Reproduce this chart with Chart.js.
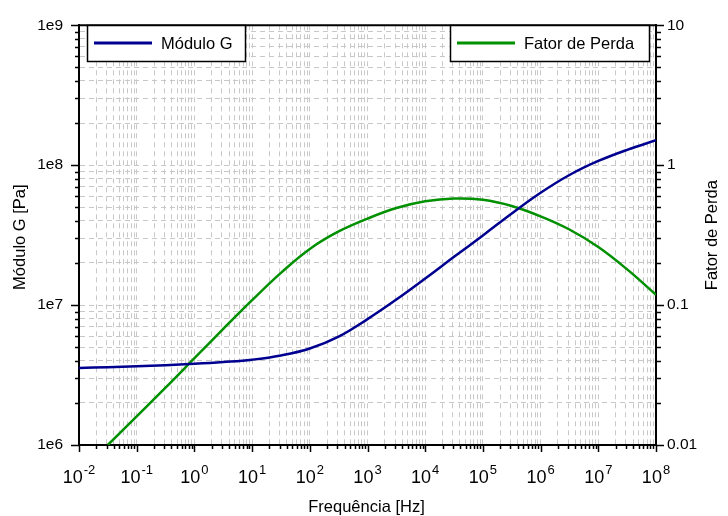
<!DOCTYPE html>
<html>
<head>
<meta charset="utf-8">
<script src="https://cdn.jsdelivr.net/npm/chart.js@4"></script>
<style>
  html, body { margin: 0; padding: 0; background: #fff; }
  #wrap { width: 728px; height: 516px; }
</style>
</head>
<body>
<div id="wrap"><canvas id="grafico" width="728" height="516"></canvas></div>
<script>
// curva mestra: módulo de cisalhamento G [Pa]
const freqModulo = [0.01, 0.0316, 0.1, 0.316, 1, 3.16, 10, 31.6, 100, 316, 1000, 3162, 10000, 31623,
  100000, 316228, 1000000, 3162278, 10000000, 31622777, 100000000];
const moduloG = [3.556e6, 3.597e6, 3.648e6, 3.715e6, 3.802e6, 3.917e6, 4.074e6, 4.365e6, 4.898e6, 5.957e6,
  7.943e6, 1.096e7, 1.549e7, 2.213e7, 3.148e7, 4.519e7, 6.353e7, 8.511e7, 1.072e8, 1.288e8, 1.507e8];

// fator de perda (eixo da direita)
const freqPerda = [0.0316, 0.1, 0.316, 1, 3.16, 10, 31.6, 100, 316, 1000, 3162, 10000, 31623,
  100000, 316228, 1000000, 3162278, 10000000, 31622777, 100000000];
const fatorPerda = [0.01, 0.01603, 0.0257, 0.0417, 0.0676, 0.1085, 0.1700, 0.252, 0.336, 0.415, 0.494,
  0.552, 0.578, 0.566, 0.511, 0.431, 0.347, 0.26, 0.18, 0.1186];

const expoentesX = ['-2', '-1', '0', '1', '2', '3', '4', '5', '6', '7', '8'];
const rotulosEsq = ['1e6', '1e7', '1e8', '1e9'];
const rotulosDir = ['0.01', '0.1', '1', '10'];

const azul = '#000090';
const verde = '#009000';
const fonte = '"Liberation Sans", Arial, sans-serif';

function ehDecada(v) {
  const l = Math.log10(v);
  return Math.abs(l - Math.round(l)) < 1e-9;
}

function ticksLog(min, max) {
  const lista = [];
  const e0 = Math.round(Math.log10(min));
  const e1 = Math.round(Math.log10(max));
  for (let e = e0; e < e1; e++) {
    for (let m = 1; m < 10; m++) lista.push({ value: m * Math.pow(10, e) });
  }
  lista.push({ value: max });
  return lista;
}

const gradeCinza = {
  color: '#c8c8c8',
  lineWidth: 1,
  drawTicks: false,
};

const moldura = {
  id: 'moldura',
  afterDraw(chart) {
    const ctx = chart.ctx;
    const area = chart.chartArea;
    const sx = chart.scales.x;
    const sy = chart.scales.y;
    const sy1 = chart.scales.y1;

    ctx.save();
    ctx.strokeStyle = '#000';
    ctx.lineWidth = 2;

    // borda superior
    ctx.beginPath();
    ctx.moveTo(area.left - 1, area.top);
    ctx.lineTo(area.right + 1, area.top);
    ctx.stroke();

    // marcas dos eixos
    ctx.lineWidth = 1.5;
    ctx.beginPath();
    sx.ticks.forEach((t) => {
      const px = Math.round(sx.getPixelForValue(t.value)) + 0.5;
      const len = ehDecada(t.value) ? 7 : 4;
      ctx.moveTo(px, area.bottom);
      ctx.lineTo(px, area.bottom + len);
    });
    sy.ticks.forEach((t) => {
      const py = Math.round(sy.getPixelForValue(t.value)) + 0.5;
      const len = ehDecada(t.value) ? 8 : 4;
      ctx.moveTo(area.left, py);
      ctx.lineTo(area.left - len, py);
    });
    sy1.ticks.forEach((t) => {
      const py = Math.round(sy1.getPixelForValue(t.value)) + 0.5;
      const len = ehDecada(t.value) ? 8 : 5;
      ctx.moveTo(area.right, py);
      ctx.lineTo(area.right + len, py);
    });
    ctx.stroke();

    // rótulos do eixo x como potências de dez
    ctx.fillStyle = '#000';
    ctx.textBaseline = 'alphabetic';
    expoentesX.forEach((ex) => {
      const v = Math.pow(10, Number(ex));
      const px = sx.getPixelForValue(v);
      ctx.font = '18px ' + fonte;
      const wBase = ctx.measureText('10').width;
      ctx.font = '13px ' + fonte;
      const wExp = ctx.measureText(ex).width;
      const x0 = px - (wBase + 1 + wExp) / 2;
      ctx.font = '18px ' + fonte;
      ctx.textAlign = 'left';
      ctx.fillText('10', x0, 483);
      ctx.font = '13px ' + fonte;
      ctx.fillText(ex, x0 + wBase + 1, 474);
    });

    // títulos dos eixos
    ctx.font = '16.5px ' + fonte;
    ctx.textAlign = 'center';
    ctx.textBaseline = 'middle';
    ctx.fillText('Frequência [Hz]', (area.left + area.right) / 2 - 1, 507);

    const meio = (area.top + area.bottom) / 2;
    ctx.save();
    ctx.translate(20, meio + 2);
    ctx.rotate(-Math.PI / 2);
    ctx.fillText('Módulo G [Pa]', 0, 0);
    ctx.restore();

    ctx.save();
    ctx.translate(712, meio);
    ctx.rotate(-Math.PI / 2);
    ctx.fillText('Fator de Perda', 0, 0);
    ctx.restore();

    // legendas em caixas separadas
    const caixas = [
      { x: 87, w: 158, ds: chart.data.datasets[0] },
      { x: 450, w: 199, ds: chart.data.datasets[1] },
    ];
    caixas.forEach((c) => {
      ctx.fillStyle = '#fff';
      ctx.fillRect(c.x, 25, c.w, 36);
      ctx.strokeStyle = '#000';
      ctx.lineWidth = 1.5;
      ctx.strokeRect(c.x + 0.5, 25.5, c.w, 36);
      ctx.strokeStyle = c.ds.borderColor;
      ctx.lineWidth = 3;
      ctx.beginPath();
      ctx.moveTo(c.x + 7, 43);
      ctx.lineTo(c.x + 65, 43);
      ctx.stroke();
      ctx.fillStyle = '#000';
      ctx.font = '16.5px ' + fonte;
      ctx.textAlign = 'left';
      ctx.textBaseline = 'middle';
      ctx.fillText(c.ds.label, c.x + 74, 44);
    });

    ctx.restore();
  },
};

function montarGrafico() {
  new Chart(document.getElementById('grafico'), {
    type: 'line',
    data: {
      datasets: [
        {
          label: 'Módulo G',
          data: freqModulo.map((f, i) => ({ x: f, y: moduloG[i] })),
          yAxisID: 'y',
          borderColor: azul,
          borderWidth: 2.5,
          pointRadius: 0,
          tension: 0.4,
        },
        {
          label: 'Fator de Perda',
          data: freqPerda.map((f, i) => ({ x: f, y: fatorPerda[i] })),
          yAxisID: 'y1',
          borderColor: verde,
          borderWidth: 2.5,
          pointRadius: 0,
          tension: 0.4,
        },
      ],
    },
    options: {
      responsive: false,
      animation: false,
      layout: { padding: { top: 21, left: 0, right: 0, bottom: 0 } },
      plugins: {
        legend: { display: false },
        tooltip: { enabled: false },
      },
      scales: {
        x: {
          type: 'logarithmic',
          position: 'bottom',
          min: 0.01,
          max: 1e8,
          afterBuildTicks: (s) => { s.ticks = ticksLog(0.01, 1e8); },
          afterFit: (s) => { s.height = 71; },
          ticks: { display: false },
          grid: gradeCinza,
          border: { display: true, color: '#000', width: 2, dash: [5, 4] },
        },
        y: {
          type: 'logarithmic',
          position: 'left',
          min: 1e6,
          max: 1e9,
          afterBuildTicks: (s) => { s.ticks = ticksLog(1e6, 1e9); },
          afterFit: (s) => { s.width = 79; },
          ticks: {
            autoSkip: false,
            padding: 16,
            color: '#000',
            font: { family: fonte, size: 15.5 },
            callback: (v) => (ehDecada(v) ? rotulosEsq[Math.round(Math.log10(v)) - 6] : ''),
          },
          grid: gradeCinza,
          border: { display: true, color: '#000', width: 2, dash: [5, 4] },
        },
        y1: {
          type: 'logarithmic',
          position: 'right',
          min: 0.01,
          max: 10,
          afterBuildTicks: (s) => { s.ticks = ticksLog(0.01, 10); },
          afterFit: (s) => { s.width = 72; },
          ticks: {
            autoSkip: false,
            padding: 11,
            color: '#000',
            font: { family: fonte, size: 15.5 },
            callback: (v) => (ehDecada(v) ? rotulosDir[Math.round(Math.log10(v)) + 2] : ''),
          },
          grid: { display: false, drawTicks: false },
          border: { display: true, color: '#000', width: 2 },
        },
      },
    },
    plugins: [moldura],
  });
}

window.addEventListener('load', montarGrafico);
</script>
</body>
</html>
